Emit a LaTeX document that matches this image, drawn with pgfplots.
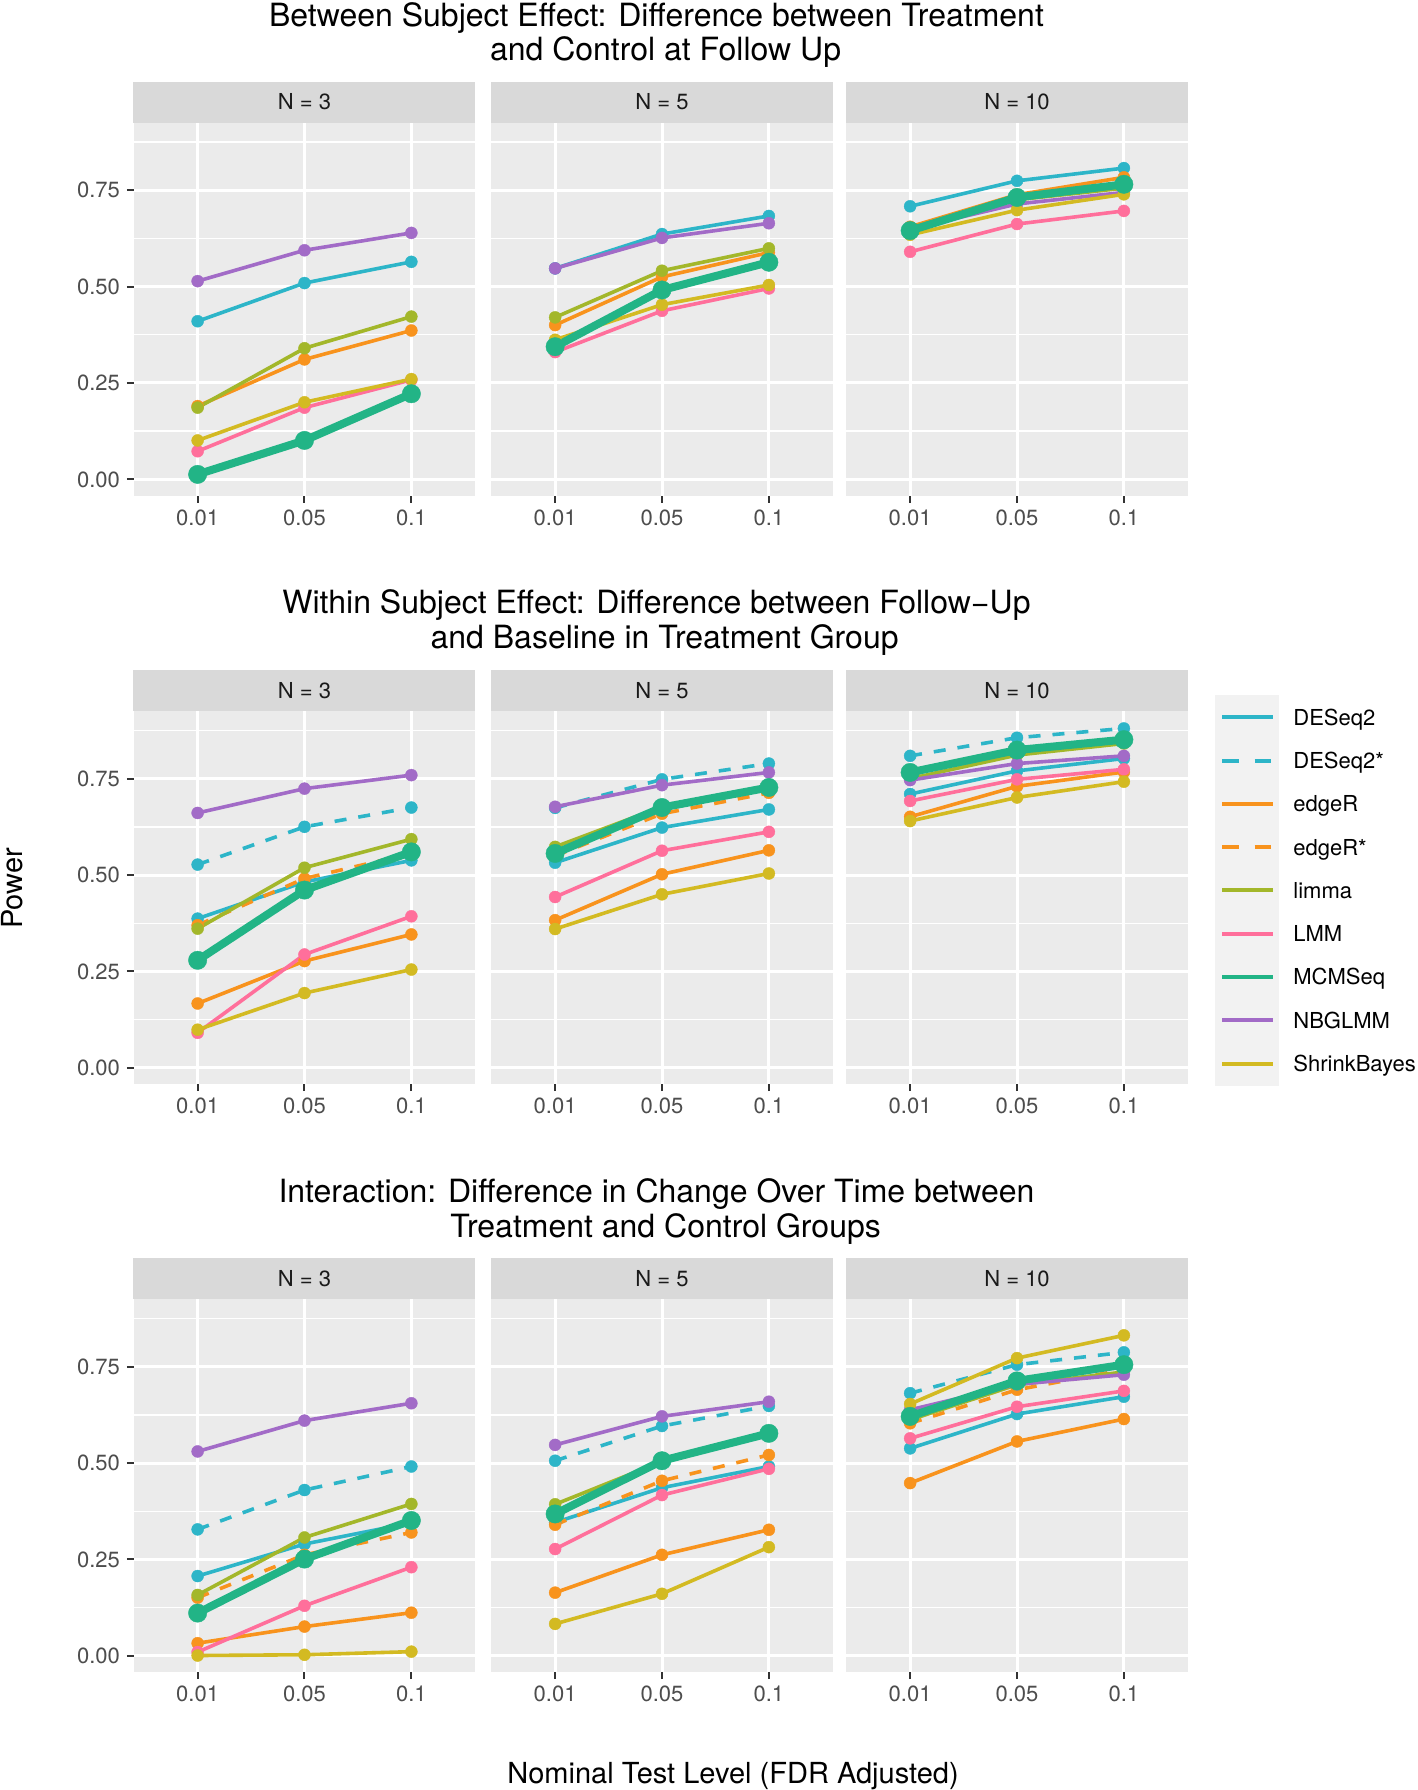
\documentclass[border=0pt]{standalone}
\usepackage{fontspec}
\setmainfont{TeX Gyre Heros}
\usepackage{pgfplots}
\pgfplotsset{compat=1.18}
\usepackage{pgfplotstable}

\definecolor{cDES}{HTML}{2DB5C8}
\definecolor{cEDG}{HTML}{F8931D}
\definecolor{cLIM}{HTML}{A3B72A}
\definecolor{cLMM}{HTML}{FF6F9B}
\definecolor{cMCM}{HTML}{22B486}
\definecolor{cNBG}{HTML}{A26BC7}
\definecolor{cSHR}{HTML}{D3BA22}
\definecolor{panelbg}{HTML}{EBEBEB}
\definecolor{stripbg}{HTML}{D9D9D9}
\definecolor{keybg}{HTML}{F2F2F2}
\definecolor{tickgray}{HTML}{333333}
\definecolor{labgray}{HTML}{4D4D4D}
\definecolor{striptext}{HTML}{1A1A1A}

% Row 1: Between subject effect
\pgfplotstableread{
x DESeq2 edgeR limma LMM MCMSeq NBGLMM ShrinkBayes
1 0.410 0.190 0.186 0.073 0.013 0.514 0.101
2 0.509 0.311 0.340 0.186 0.101 0.594 0.200
3 0.564 0.386 0.422 0.258 0.222 0.639 0.260
}\tAa
\pgfplotstableread{
x DESeq2 edgeR limma LMM MCMSeq NBGLMM ShrinkBayes
1 0.547 0.400 0.420 0.330 0.344 0.547 0.362
2 0.636 0.525 0.541 0.437 0.491 0.626 0.453
3 0.683 0.588 0.599 0.495 0.563 0.664 0.504
}\tAb
\pgfplotstableread{
x DESeq2 edgeR limma LMM MCMSeq NBGLMM ShrinkBayes
1 0.708 0.655 0.645 0.590 0.645 0.649 0.634
2 0.774 0.738 0.725 0.662 0.731 0.714 0.698
3 0.807 0.783 0.755 0.696 0.765 0.744 0.739
}\tAc
% Row 2: Within subject effect
\pgfplotstableread{
x DESeq2 DESeq2s edgeR edgeRs limma LMM MCMSeq NBGLMM ShrinkBayes
1 0.387 0.527 0.167 0.370 0.361 0.091 0.279 0.661 0.099
2 0.482 0.625 0.277 0.491 0.519 0.294 0.461 0.724 0.194
3 0.538 0.675 0.346 0.556 0.593 0.393 0.560 0.759 0.255
}\tBa
\pgfplotstableread{
x DESeq2 DESeq2s edgeR edgeRs limma LMM MCMSeq NBGLMM ShrinkBayes
1 0.532 0.674 0.383 0.550 0.573 0.443 0.556 0.677 0.360
2 0.623 0.748 0.502 0.659 0.677 0.563 0.675 0.733 0.450
3 0.670 0.789 0.564 0.713 0.727 0.612 0.727 0.766 0.504
}\tBb
\pgfplotstableread{
x DESeq2 DESeq2s edgeR edgeRs limma LMM MCMSeq NBGLMM ShrinkBayes
1 0.710 0.809 0.651 0.760 0.750 0.692 0.766 0.746 0.640
2 0.770 0.856 0.730 0.820 0.811 0.748 0.824 0.789 0.701
3 0.802 0.880 0.767 0.845 0.841 0.774 0.851 0.809 0.742
}\tBc
% Row 3: Interaction
\pgfplotstableread{
x DESeq2 DESeq2s edgeR edgeRs limma LMM MCMSeq NBGLMM ShrinkBayes
1 0.207 0.328 0.033 0.151 0.158 0.010 0.111 0.530 0.001
2 0.290 0.430 0.076 0.262 0.307 0.130 0.251 0.610 0.003
3 0.345 0.491 0.112 0.320 0.394 0.230 0.351 0.655 0.011
}\tCa
\pgfplotstableread{
x DESeq2 DESeq2s edgeR edgeRs limma LMM MCMSeq NBGLMM ShrinkBayes
1 0.346 0.506 0.164 0.340 0.393 0.277 0.368 0.547 0.083
2 0.436 0.596 0.262 0.454 0.504 0.417 0.506 0.621 0.161
3 0.491 0.648 0.327 0.521 0.577 0.485 0.577 0.659 0.282
}\tCb
\pgfplotstableread{
x DESeq2 DESeq2s edgeR edgeRs limma LMM MCMSeq NBGLMM ShrinkBayes
1 0.538 0.681 0.448 0.603 0.612 0.564 0.621 0.638 0.653
2 0.627 0.755 0.556 0.690 0.703 0.646 0.713 0.704 0.772
3 0.672 0.787 0.614 0.742 0.736 0.687 0.755 0.729 0.831
}\tCc

\pgfplotsset{
  ser/.style={line width=1.8pt, mark=*, mark size=3pt, mark options={solid, line width=0.2pt}},
  dser/.style={ser, dash pattern=on 6pt off 6pt},
  mser/.style={line width=4pt, mark=*, mark size=4.6pt, mark options={solid, line width=0.2pt}},
  panel/.style={
    scale only axis, width=171pt, height=186.5pt, anchor=south west,
    xmin=0.4, xmax=3.6, ymin=-0.043, ymax=0.924,
    axis background/.style={fill=panelbg},
    axis line style={draw=none},
    xtick={1,2,3}, xticklabels={0.01,0.05,0.1},
    ytick={0,0.25,0.5,0.75}, yticklabels={0.00,0.25,0.50,0.75},
    minor ytick={0.125,0.375,0.625,0.875},
    grid=both,
    major grid style={draw=white, line width=1.5pt},
    minor grid style={draw=white, line width=0.75pt},
    xtick pos=bottom, ytick pos=left,
    tick align=outside,
    major tick length=3.3pt, minor tick length=0pt,
    xtick style={draw=tickgray, line width=1pt},
    ytick style={draw=tickgray, line width=1pt},
    tick label style={font=\fontsize{11}{13}\selectfont, text=labgray},
    /pgf/number format/assume math mode=true,
    every axis title shift=0pt,
    title style={at={(0.5,1)}, anchor=south, fill=stripbg, minimum width=171pt,
      minimum height=20.5pt, inner sep=0pt, yshift=0pt,
      font=\fontsize{11}{13}\selectfont, text=striptext},
  },
  noy/.style={yticklabels={}, ytick style={draw=none}},
}

\newcommand\drawbase[1]{%
  \addplot[ser, cDES] table[x=x, y=DESeq2]{#1};
  \addplot[ser, cEDG] table[x=x, y=edgeR]{#1};
  \addplot[ser, cLIM] table[x=x, y=limma]{#1};
  \addplot[ser, cLMM] table[x=x, y=LMM]{#1};
  \addplot[ser, cNBG] table[x=x, y=NBGLMM]{#1};
  \addplot[ser, cSHR] table[x=x, y=ShrinkBayes]{#1};
  \addplot[mser, cMCM] table[x=x, y=MCMSeq]{#1};
}
\newcommand\drawall[1]{%
  \addplot[ser, cDES] table[x=x, y=DESeq2]{#1};
  \addplot[dser, cDES] table[x=x, y=DESeq2s]{#1};
  \addplot[ser, cEDG] table[x=x, y=edgeR]{#1};
  \addplot[dser, cEDG] table[x=x, y=edgeRs]{#1};
  \addplot[ser, cLIM] table[x=x, y=limma]{#1};
  \addplot[ser, cLMM] table[x=x, y=LMM]{#1};
  \addplot[ser, cNBG] table[x=x, y=NBGLMM]{#1};
  \addplot[ser, cSHR] table[x=x, y=ShrinkBayes]{#1};
  \addplot[mser, cMCM] table[x=x, y=MCMSeq]{#1};
}

\begin{document}
\begin{tikzpicture}
\useasboundingbox (0,0) rectangle (709pt,895pt);

% ---- Row 1
\node[anchor=base, font=\fontsize{16}{19}\selectfont] at (328.25pt,881.8pt) {Between Subject Effect: Difference between Treatment};
\node[anchor=base, font=\fontsize{16}{19}\selectfont] at (332.8pt,864.7pt) {and Control at Follow Up};
\begin{axis}[panel, at={(66.75pt,647pt)}, title={N = 3}]
\drawbase{\tAa}
\end{axis}
\begin{axis}[panel, noy, at={(245.5pt,647pt)}, title={N = 5}]
\drawbase{\tAb}
\end{axis}
\begin{axis}[panel, noy, at={(423pt,647pt)}, title={N = 10}]
\drawbase{\tAc}
\end{axis}

% ---- Row 2
\node[anchor=base, font=\fontsize{16}{19}\selectfont] at (328.25pt,588.4pt) {Within Subject Effect: Difference between Follow−Up};
\node[anchor=base, font=\fontsize{16}{19}\selectfont] at (332.3pt,570.75pt) {and Baseline in Treatment Group};
\begin{axis}[panel, at={(66.75pt,352.75pt)}, title={N = 3}]
\drawall{\tBa}
\end{axis}
\begin{axis}[panel, noy, at={(245.5pt,352.75pt)}, title={N = 5}]
\drawall{\tBb}
\end{axis}
\begin{axis}[panel, noy, at={(423pt,352.75pt)}, title={N = 10}]
\drawall{\tBc}
\end{axis}

% ---- Row 3
\node[anchor=base, font=\fontsize{16}{19}\selectfont] at (328.25pt,293.85pt) {Interaction: Difference in Change Over Time between};
\node[anchor=base, font=\fontsize{16}{19}\selectfont] at (332.8pt,276.15pt) {Treatment and Control Groups};
\begin{axis}[panel, at={(66.75pt,58.75pt)}, title={N = 3}]
\drawall{\tCa}
\end{axis}
\begin{axis}[panel, noy, at={(245.5pt,58.75pt)}, title={N = 5}]
\drawall{\tCb}
\end{axis}
\begin{axis}[panel, noy, at={(423pt,58.75pt)}, title={N = 10}]
\drawall{\tCc}
\end{axis}

% ---- axis titles
\node[rotate=90, font=\fontsize{14.5}{17}\selectfont] at (5.9pt,450.85pt) {Power};
\node[anchor=base, font=\fontsize{14.5}{17}\selectfont] at (366.5pt,3.3pt) {Nominal Test Level (FDR Adjusted)};

% ---- legend
\fill[keybg] (607.5pt,352pt) rectangle (639.5pt,547.5pt);
\begin{scope}[line width=2pt]
\draw[cDES] (611pt,536.35pt) -- (636.5pt,536.35pt);
\draw[cDES, dash pattern=on 8.3pt off 8pt] (611pt,514.7pt) -- (636.5pt,514.7pt);
\draw[cEDG] (611pt,493.05pt) -- (636.5pt,493.05pt);
\draw[cEDG, dash pattern=on 8.3pt off 8pt] (611pt,471.4pt) -- (636.5pt,471.4pt);
\draw[cLIM] (611pt,449.75pt) -- (636.5pt,449.75pt);
\draw[cLMM] (611pt,428.1pt) -- (636.5pt,428.1pt);
\draw[cMCM] (611pt,406.45pt) -- (636.5pt,406.45pt);
\draw[cNBG] (611pt,384.8pt) -- (636.5pt,384.8pt);
\draw[cSHR] (611pt,363.15pt) -- (636.5pt,363.15pt);
\end{scope}
\begin{scope}[every node/.style={anchor=base west, font=\fontsize{11}{13}\selectfont, inner sep=0pt}]
\node at (646.5pt,532.4pt) {DESeq2};
\node at (646.5pt,510.75pt) {DESeq2*};
\node at (646.5pt,489.1pt) {edgeR};
\node at (646.5pt,467.45pt) {edgeR*};
\node at (646.5pt,445.8pt) {limma};
\node at (646.5pt,424.15pt) {LMM};
\node at (646.5pt,402.5pt) {MCMSeq};
\node at (646.5pt,380.85pt) {NBGLMM};
\node at (646.5pt,359.2pt) {ShrinkBayes};
\end{scope}
\end{tikzpicture}
\end{document}
